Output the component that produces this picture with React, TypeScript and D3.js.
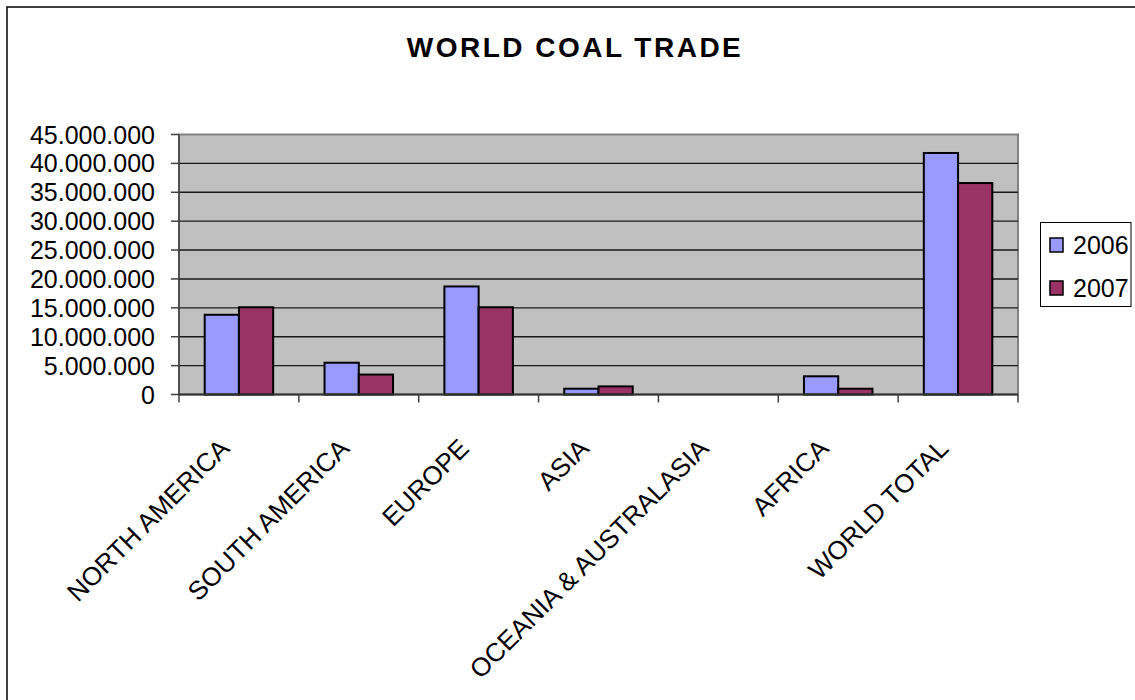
import React from "react";
import * as d3 from "d3";

const categories = [
  "NORTH AMERICA",
  "SOUTH AMERICA",
  "EUROPE",
  "ASIA",
  "OCEANIA & AUSTRALASIA",
  "AFRICA",
  "WORLD TOTAL",
];
const seriesNames = ["2006", "2007"];
const values2006 = [13800000, 5500000, 18700000, 1000000, 0, 3150000, 41800000];
const values2007 = [15100000, 3450000, 15100000, 1400000, 0, 1000000, 36600000];
const yTicks = [0, 5e6, 10e6, 15e6, 20e6, 25e6, 30e6, 35e6, 40e6, 45e6];
const seriesColors = ["#9999FF", "#993366"];

const W = 1135;
const H = 700;
const plot = { left: 179, right: 1018, top: 134.5, bottom: 394.5 };
const FONT = "'Liberation Sans', Arial, sans-serif";

const locale = d3.formatLocale({
  decimal: ",",
  thousands: ".",
  grouping: [3],
  currency: ["", ""],
});
const fmt = locale.format(",.0f");

export default function App() {
  const x0 = d3
    .scaleBand<string>()
    .domain(categories)
    .range([plot.left, plot.right])
    .paddingInner(0)
    .paddingOuter(0);
  const bw = x0.bandwidth();
  // gap width 150%: two bars plus 1.5 bar widths of gap per category
  const x1 = d3
    .scaleBand<string>()
    .domain(seriesNames)
    .range([(bw * 0.75) / 3.5, (bw * 2.75) / 3.5]);
  const y = d3.scaleLinear().domain([0, 45e6]).range([plot.bottom, plot.top]);

  const rows = categories.map((c, i) => ({
    cat: c,
    vals: [values2006[i], values2007[i]],
  }));

  const boundaries = d3.range(categories.length + 1).map((i) => plot.left + i * bw);

  return (
    <svg
      width={W}
      height={H}
      style={{ position: "fixed", left: 0, top: 0, background: "#fff" }}
      fontFamily={FONT}
    >
      <rect x={0} y={0} width={W} height={H} fill="#fff" />
      {/* chart area frame */}
      <rect x={7} y={7} width={W + 50} height={H + 50} fill="none" stroke="#000" strokeWidth={1.5} />

      {/* title */}
      <text
        x={575}
        y={57}
        textAnchor="middle"
        fontSize={28}
        fontWeight="bold"
        letterSpacing={2.5}
        fill="#000"
      >
        WORLD  COAL TRADE
      </text>

      {/* plot area */}
      <rect
        x={plot.left}
        y={plot.top}
        width={plot.right - plot.left}
        height={plot.bottom - plot.top}
        fill="#C0C0C0"
        stroke="#808080"
        strokeWidth={2}
      />

      {/* gridlines */}
      {yTicks.slice(1, -1).map((t) => (
        <line
          key={"g" + t}
          x1={plot.left}
          x2={plot.right}
          y1={y(t)}
          y2={y(t)}
          stroke="#1a1a1a"
          strokeWidth={1.4}
        />
      ))}

      {/* bars */}
      {rows.map((r) => (
        <g key={r.cat} transform={`translate(${x0(r.cat)},0)`}>
          {r.vals.map((v, j) =>
            v > 0 ? (
              <rect
                key={j}
                x={x1(seriesNames[j])}
                y={y(v)}
                width={x1.bandwidth()}
                height={y(0) - y(v)}
                fill={seriesColors[j]}
                stroke="#000"
                strokeWidth={2}
              />
            ) : null
          )}
        </g>
      ))}

      {/* y axis */}
      <line x1={plot.left} x2={plot.left} y1={plot.top} y2={plot.bottom + 8} stroke="#404040" strokeWidth={1.5} />
      {yTicks.map((t) => (
        <g key={"y" + t}>
          <line x1={plot.left - 8} x2={plot.left} y1={y(t)} y2={y(t)} stroke="#404040" strokeWidth={1.5} />
          <text
            x={155}
            y={y(t)}
            dy="0.36em"
            textAnchor="end"
            fontSize={25}
            fill="#000"
          >
            {fmt(t)}
          </text>
        </g>
      ))}

      {/* x axis */}
      <line x1={plot.left} x2={plot.right} y1={plot.bottom} y2={plot.bottom} stroke="#333" strokeWidth={2} />
      {boundaries.slice(1).map((bx, i) => (
        <line key={"xt" + i} x1={bx} x2={bx} y1={plot.bottom} y2={plot.bottom + 8} stroke="#404040" strokeWidth={1.5} />
      ))}
      {categories.map((c) => {
        const cx = (x0(c) as number) + bw / 2 - 8;
        const cy = 450;
        return (
          <text
            key={"xl" + c}
            transform={`translate(${cx},${cy}) rotate(-45)`}
            textAnchor="end"
            fontSize={26}
            fill="#000"
          >
            {c}
          </text>
        );
      })}

      {/* legend */}
      <rect x={1040.5} y={222.5} width={90.5} height={84} fill="#fff" stroke="#000" strokeWidth={1} />
      {seriesNames.map((s, i) => (
        <g key={"lg" + s}>
          <rect
            x={1050}
            y={238 + i * 43}
            width={13}
            height={14}
            fill={seriesColors[i]}
            stroke="#000"
            strokeWidth={1.5}
          />
          <text x={1073} y={253.5 + i * 43} fontSize={25} fill="#000">
            {s}
          </text>
        </g>
      ))}
    </svg>
  );
}
